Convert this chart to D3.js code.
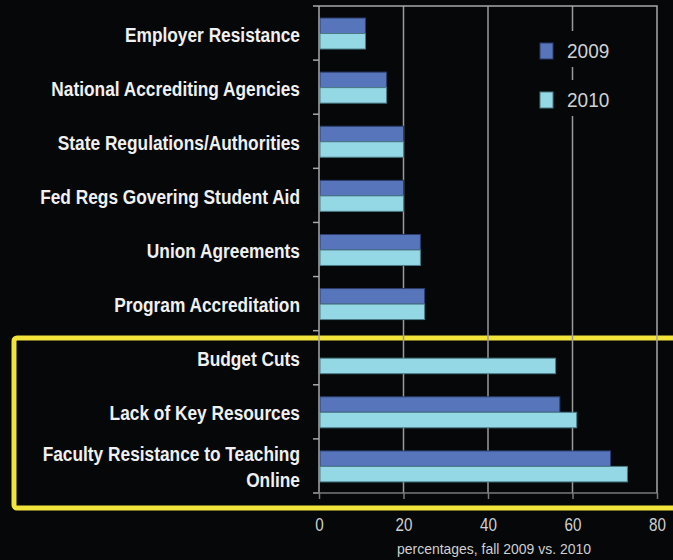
<!DOCTYPE html>
<html>
<head>
<meta charset="utf-8">
<script src="https://cdn.jsdelivr.net/npm/d3@7"></script>
<style>
  html, body { margin: 0; padding: 0; background: #050708; }
  svg { display: block; }
</style>
</head>
<body>
<svg id="chart" width="673" height="560"></svg>
<script>
// Barriers to online education, share of institutions citing each
const categories = [
  "Employer Resistance",
  "National Accrediting Agencies",
  "State Regulations/Authorities",
  "Fed Regs Govering Student Aid",
  "Union Agreements",
  "Program Accreditation",
  "Budget Cuts",
  "Lack of Key Resources",
  "Faculty Resistance to Teaching Online"
];
const categoryLines = [
  ["Employer Resistance"],
  ["National Accrediting Agencies"],
  ["State Regulations/Authorities"],
  ["Fed Regs Govering Student Aid"],
  ["Union Agreements"],
  ["Program Accreditation"],
  ["Budget Cuts"],
  ["Lack of Key Resources"],
  ["Faculty Resistance to Teaching", "Online"]
];
const years = ["2009", "2010"];
const values2009 = [11, 16, 20, 20, 24, 25, null, 57, 69];
const values2010 = [11, 16, 20, 20, 24, 25, 56, 61, 73];
const xTicks = [0, 20, 40, 60, 80];
const xTitle = "percentages, fall 2009 vs. 2010";

const colors = { "2009": "#5675ba", "2010": "#94d8e6" };
const strokes = { "2009": "#2c3d6c", "2010": "#4a7b86" };

const svg = d3.select("#chart");
const font = "'Liberation Sans', Arial, sans-serif";

// Narrow the glyphs of a text selection horizontally by a factor
function condense(sel, factor) {
  sel.each(function () {
    const len = this.getComputedTextLength();
    d3.select(this)
      .attr("textLength", len * factor)
      .attr("lengthAdjust", "spacingAndGlyphs");
  });
}

const plot = { left: 319, right: 657, top: 6, bottom: 493 };

const x = d3.scaleLinear().domain([0, 80]).range([plot.left, plot.right]);
const y = d3.scaleBand().domain(categories).range([plot.top, plot.bottom]).padding(0);
const yInner = d3.scaleBand().domain(years).range([y.bandwidth() * 0.222, y.bandwidth() * 0.795]);

// Highlight frame around the three leading barriers
svg.append("rect")
  .attr("x", 14).attr("y", 338)
  .attr("width", 720).attr("height", 170)
  .attr("rx", 3)
  .attr("fill", "none")
  .attr("stroke", "#f2e43a")
  .attr("stroke-width", 5);

// Vertical gridlines
svg.append("g")
  .selectAll("line")
  .data(xTicks.filter(d => d > 0 && d < 80))
  .join("line")
  .attr("x1", d => x(d)).attr("x2", d => x(d))
  .attr("y1", plot.top).attr("y2", plot.bottom)
  .attr("stroke", "#9a9a9a")
  .attr("stroke-width", 1.5);

// Frame: top and right edges
svg.append("path")
  .attr("d", `M${plot.left - 6},${plot.top}H${plot.right}V${plot.bottom}`)
  .attr("fill", "none")
  .attr("stroke", "#a8a8a8")
  .attr("stroke-width", 1.5);

// Legend with dark backing over the gridline
const legend = svg.append("g");
years.forEach((yr, i) => {
  const cy = 51 + i * 49;
  legend.append("rect")
    .attr("x", 532).attr("y", cy - 20)
    .attr("width", 86).attr("height", 36)
    .attr("fill", "#050708");
  legend.append("rect")
    .attr("x", 540).attr("y", cy - 8)
    .attr("width", 13).attr("height", 16)
    .attr("fill", colors[yr])
    .attr("stroke", strokes[yr]).attr("stroke-width", 1);
  legend.append("text")
    .attr("x", 567).attr("y", cy)
    .attr("dy", "0.36em")
    .attr("fill", "#d0d0d0")
    .attr("font-family", font)
    .attr("font-size", 20)
    .text(yr)
    .call(condense, 0.95);
});

// Bars
const series = [
  { year: "2009", values: values2009 },
  { year: "2010", values: values2010 }
];
const bars = svg.append("g");
series.forEach(s => {
  bars.append("g")
    .selectAll("rect")
    .data(categories.map((c, i) => ({ c, v: s.values[i] })).filter(d => d.v != null))
    .join("rect")
    .attr("x", x(0) + 1)
    .attr("y", d => y(d.c) + yInner(s.year))
    .attr("width", d => x(d.v) - x(0) - 1)
    .attr("height", yInner.bandwidth())
    .attr("fill", colors[s.year])
    .attr("stroke", strokes[s.year])
    .attr("stroke-width", 1);
});

// Left axis (band boundaries as ticks)
const yAxis = svg.append("g");
yAxis.append("line")
  .attr("x1", plot.left).attr("x2", plot.left)
  .attr("y1", plot.top).attr("y2", plot.bottom)
  .attr("stroke", "#a8a8a8").attr("stroke-width", 1.5);
yAxis.selectAll("line.tick")
  .data(categories)
  .join("line")
  .attr("class", "tick")
  .attr("x1", plot.left - 6).attr("x2", plot.left)
  .attr("y1", d => y(d) + y.bandwidth()).attr("y2", d => y(d) + y.bandwidth())
  .attr("stroke", "#a8a8a8").attr("stroke-width", 1.5);

// Category labels
const labels = svg.append("g")
  .attr("font-family", font)
  .attr("font-weight", "bold")
  .attr("font-size", 20)
  .attr("fill", "#f0f0f0")
  .attr("text-anchor", "end");
categories.forEach((c, i) => {
  const lines = categoryLines[i];
  const cy = y(c) + y.bandwidth() / 2 + 1.5;
  lines.forEach((ln, j) => {
    labels.append("text")
      .attr("x", 300)
      .attr("y", cy + (j - (lines.length - 1) / 2) * 26)
      .attr("dy", "0.35em")
      .text(ln);
  });
});
labels.selectAll("text").call(condense, 0.865);

// Bottom axis
const xAxis = svg.append("g")
  .attr("transform", `translate(0,${plot.bottom})`)
  .call(d3.axisBottom(x).tickValues(xTicks).tickSize(6).tickPadding(19).tickSizeOuter(0));
xAxis.select(".domain")
  .attr("d", `M${plot.left - 6},0H${plot.right}`)
  .attr("stroke", "#7a7a7a").attr("stroke-width", 1.5);
xAxis.selectAll(".tick line").attr("stroke", "#7a7a7a").attr("stroke-width", 1.5);
xAxis.selectAll(".tick text")
  .attr("fill", "#d0d0d0")
  .attr("font-family", font)
  .attr("font-size", 19)
  .call(condense, 0.8);

// Axis title
svg.append("text")
  .attr("x", 494).attr("y", 549)
  .attr("dy", "0.35em")
  .attr("text-anchor", "middle")
  .attr("fill", "#d0d0d0")
  .attr("font-family", font)
  .attr("font-size", 15)
  .text(xTitle)
  .call(condense, 0.93);
</script>
</body>
</html>
